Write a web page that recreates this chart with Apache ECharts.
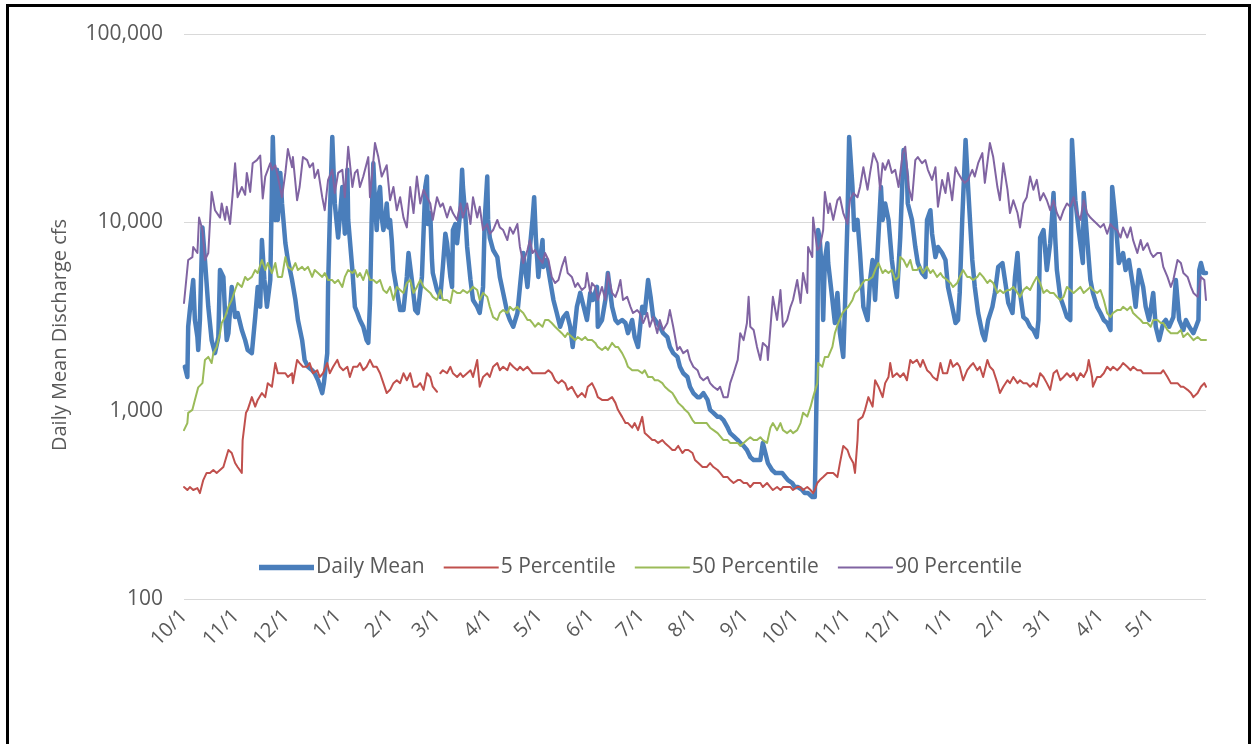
<!DOCTYPE html>
<html>
<head>
<meta charset="utf-8">
<script src="https://cdn.jsdelivr.net/npm/echarts@6/dist/echarts.min.js"></script>
<style>
html,body{margin:0;padding:0;background:#fff;}
#chart{width:1257px;height:744px;}
</style>
</head>
<body>
<div id="chart"></div>
<script>
// x = days since 10/1 of the first water year
const tickDays = [0,31,61,92,123,151,182,212,243,273,304,335,365,396,426,457,488,516,547,577];
const tickLabels = ['10/1','11/1','12/1','1/1','2/1','3/1','4/1','5/1','6/1','7/1','8/1','9/1','10/1','11/1','12/1','1/1','2/1','3/1','4/1','5/1'];
const yTicks = [100, 1000, 10000, 100000];
const seriesNames = ['Daily Mean','5 Percentile','50 Percentile','90 Percentile'];

const dailyMean = [[0.5,1710],[2,1510],[2.5,2790],[3.5,3420],[5.5,4940],[6.5,3030],[8,2460],[8.5,2100],[9.5,3030],[11,9400],[12.5,6310],[14.5,3560],[16.5,2370],[18.5,2020],[20.5,2460],[21.5,5580],[23.5,5130],[24.5,3300],[25.5,2370],[26.5,2580],[28.5,4540],[30.5,3140],[32,3300],[34.5,2680],[36.5,2370],[38,2100],[40.5,2020],[42.5,3140],[44,4540],[45.5,3560],[46.5,8050],[48,4940],[49.5,3560],[51.5,4940],[53,28400],[54.5,10300],[55.5,19000],[56,10300],[57.5,18300],[58.5,12600],[60.5,7750],[62,6310],[64.5,4940],[66.5,3870],[68,3030],[70.5,2370],[72,1860],[74,1710],[76.5,1640],[78,1580],[80,1450],[82.5,1240],[83.5,1400],[85.5,2020],[86,4540],[87,10300],[88.5,28400],[90,12600],[92,8300],[94.5,15400],[96,8700],[97.5,19000],[98,10300],[100.5,5580],[102,3560],[103.5,3300],[105,3030],[107,2790],[109,2370],[110,2290],[111,3730],[112,10300],[113,20600],[114,12600],[115,9100],[116,13600],[117,15400],[118,10600],[119,9100],[120,10300],[121,12600],[122,9400],[123,10300],[124,8050],[125,5580],[127,4370],[129,3420],[131,3420],[133,5130],[134,6870],[136,4940],[138,3420],[139.5,3300],[142,5130],[144,15400],[145,17500],[145.5,9800],[147,11200],[148,6310],[148.5,5380],[151,4370],[153,4020],[154.5,5800],[156,8700],[157,7750],[159,5130],[160,4540],[160.5,9100],[162,9800],[163,7750],[165,11600],[166,19000],[166.5,15400],[168,10600],[169,7400],[171,4940],[172.5,3870],[175,3560],[176.5,3300],[178.5,4540],[179.5,10300],[181,17500],[181.5,10300],[182.5,8300],[184.5,7130],[187,6540],[188.5,5130],[190.5,4220],[193,3300],[194.5,3030],[196.5,2790],[199,3300],[200.5,4540],[202.5,6870],[205,4540],[205.5,5130],[206.5,7400],[208,10300],[209,13600],[210,8300],[211.5,5130],[212.5,6310],[214,8050],[214.5,5800],[216.5,6310],[218.5,4940],[220.5,3870],[222.5,3300],[224.5,2790],[226.5,3140],[228.5,3300],[230.5,2790],[232,2180],[234.5,3560],[236.5,4220],[238,3730],[240.5,3030],[242.5,4220],[244,3870],[246.5,4540],[247,2790],[249.5,3030],[251.5,3870],[253,5380],[255.5,3560],[257.5,3030],[259,2920],[261.5,3030],[263.5,2920],[265,2580],[267.5,3030],[269,2460],[271,2180],[273.5,3560],[275,3300],[277,4940],[278.5,4020],[280,3140],[282.5,2920],[284,2790],[286,2580],[288.5,2460],[290,2180],[292,2020],[294.5,1930],[296,1710],[298,1580],[300.5,1510],[302,1340],[304,1240],[306.5,1180],[308,1180],[310,1240],[312.5,1140],[314,1010],[316,974],[318.5,927],[320,927],[322,891],[324.5,812],[326,760],[328,733],[330.5,698],[332,674],[334,650],[336,618],[338,567],[340,547],[342,547],[344,547],[345.5,674],[347,596],[348.5,527],[351,484],[353,467],[354.5,467],[357,467],[359,444],[360.5,428],[363,413],[364.5,393],[366.5,393],[369,379],[370.5,365],[372.5,365],[375,348],[376.5,348],[378,2020],[378.5,9100],[379.5,8050],[381,4940],[381.5,3030],[382.5,6310],[384,7750],[384.5,6080],[387,3870],[388.5,2920],[390,4220],[391.5,2580],[393.5,1930],[394.5,3560],[396,10300],[397,28400],[399,15400],[400,9100],[402,10300],[403.5,6870],[405.5,3560],[408,3030],[409.5,4940],[411,6310],[412.5,3870],[416,15400],[417,10300],[418.5,12600],[420.5,10300],[422.5,6310],[424.5,4540],[425.5,4020],[427.5,8300],[429.5,24200],[431.5,17500],[432,12600],[434.5,10300],[436.5,7400],[438,6080],[440.5,5380],[442.5,5130],[443.5,10300],[445.5,11600],[446.5,8700],[448.5,6540],[450,7400],[452.5,6870],[454.5,6310],[456,4540],[458.5,3560],[460.5,2920],[462,3030],[463,4220],[464.5,10300],[466.5,27400],[468,15400],[470.5,6310],[472,4540],[474,3300],[476.5,2580],[478,2370],[480,3030],[482.5,3560],[484,4220],[486,5800],[488.5,6080],[490,4940],[492,3730],[494.5,3300],[496,5130],[497.5,6870],[499,4220],[501,3140],[503,3030],[505,2790],[507,2680],[509,2460],[510,3030],[511,8300],[513,9100],[515,5580],[517,7750],[518,10300],[519,14300],[520,8300],[521,5580],[523,4020],[525,3560],[527,3140],[529,3030],[530,27400],[532,13100],[534,9100],[536.5,6080],[537,14300],[539,8300],[541,4940],[542.5,4220],[545,3560],[547,3300],[549,3030],[551,2920],[553,2680],[554,15400],[556,10300],[558,6080],[560.5,6870],[562,5580],[564,6310],[566.5,4540],[568,3560],[570,5580],[572.5,4540],[574,3560],[576,3030],[578.5,4220],[580,2790],[582,2370],[584.5,2920],[586,3030],[588,2790],[590.5,3140],[592,4940],[594,3030],[596.5,2680],[598,3030],[600,2790],[602.5,2580],[604,2790],[605.5,3030],[606,5580],[607,6080],[608.5,5380],[610,5380]];

const p5 = [[0,393],[2,379],[3.5,393],[5.5,379],[8,388],[9.5,365],[11.5,428],[13.5,467],[15.5,467],[17.5,484],[19.5,467],[21.5,484],[23.5,502],[26.5,618],[28.5,596],[30.5,527],[32,502],[34.5,467],[35,698],[37,974],[38,1010],[40.5,1180],[42.5,1050],[44,1140],[46.5,1240],[48.5,1180],[50,1400],[52.5,1340],[54.5,1790],[56,1580],[58.5,1580],[60.5,1580],[62,1510],[64.5,1580],[65,1400],[67.5,1860],[69,1790],[71,1710],[73.5,1710],[75,1790],[77,1580],[79.5,1640],[81,1510],[83,1580],[85.5,1790],[87,1580],[89,1710],[91.5,1860],[93,1710],[95,1640],[97.5,1710],[99,1510],[101,1710],[103.5,1710],[105,1790],[107,1640],[109,1710],[111,1860],[113,1710],[115,1710],[117,1580],[119,1400],[121,1240],[123,1290],[125,1400],[127,1450],[129,1400],[131,1580],[133,1450],[135,1580],[137,1340],[139,1340],[141,1400],[143,1290],[145,1580],[147,1510],[148.5,1340],[151,1260],[152,null],[153,1580],[154.5,1640],[157,1580],[159,1710],[160.5,1580],[163,1510],[165,1580],[166.5,1510],[169,1580],[171,1640],[172.5,1510],[175,1860],[176.5,1340],[178.5,1510],[181,1580],[182.5,1510],[184.5,1710],[187,1790],[188.5,1640],[190.5,1710],[193,1640],[194.5,1790],[196.5,1710],[199,1640],[200.5,1710],[202.5,1640],[205,1710],[206.5,1640],[208,1580],[209.5,1580],[211.5,1580],[214,1580],[215.5,1580],[217.5,1640],[219.5,1580],[221.5,1450],[223.5,1400],[225.5,1450],[227.5,1400],[229,1290],[231.5,1340],[233.5,1240],[235,1180],[237.5,1240],[239.5,1180],[241,1340],[243.5,1400],[245.5,1290],[247,1180],[249.5,1140],[251.5,1140],[253,1140],[255.5,1180],[257.5,1100],[259,1010],[261.5,927],[263.5,859],[265,859],[267.5,812],[269,859],[271,788],[273.5,927],[275,760],[277,733],[279.5,698],[281,698],[283,674],[285.5,698],[287,674],[289,650],[291.5,618],[293,618],[295,650],[297.5,596],[299,618],[301,618],[303.5,596],[305,547],[307,527],[309.5,502],[312,502],[314,527],[316,502],[318.5,484],[320,467],[322,444],[324.5,444],[326,428],[328,413],[330.5,428],[332,428],[334,413],[336,413],[338,393],[340,413],[342,413],[344,413],[345.5,393],[348,413],[350,393],[351.5,379],[354,393],[356,379],[357.5,393],[360,393],[362,393],[363.5,379],[366,393],[368,393],[369.5,379],[372,393],[374,379],[375.5,365],[376.5,379],[378,413],[379.5,428],[381.5,444],[384,467],[385.5,467],[387.5,467],[390,444],[391.5,527],[393.5,650],[396,618],[397.5,567],[399.5,527],[400.5,467],[402,698],[402.5,891],[405,927],[406.5,1010],[408.5,1180],[411,1050],[412.5,1450],[414.5,1340],[417,1180],[418.5,1400],[420.5,1510],[421.5,1790],[423,1510],[425.5,1580],[427.5,1510],[429.5,1580],[431.5,1450],[433.5,1860],[435,1790],[437.5,1860],[439.5,1710],[441,1860],[443.5,1640],[445.5,1580],[447,1510],[449.5,1450],[451.5,1790],[453,1580],[455.5,1580],[457.5,1860],[459,1710],[461.5,1790],[463,1710],[465,1450],[467.5,1640],[469,1710],[471,1790],[473.5,1640],[475,1710],[477,1510],[479.5,1860],[481,1710],[483,1640],[485.5,1400],[487,1240],[489,1340],[491.5,1450],[493,1400],[495,1510],[497.5,1400],[499,1450],[501,1400],[503,1400],[505,1340],[507,1400],[509,1340],[511,1580],[513,1510],[515,1400],[517,1290],[519,1580],[521,1640],[523,1450],[525,1510],[527,1580],[529,1510],[531,1580],[533,1450],[535,1580],[537,1510],[539,1640],[540,1860],[542,1510],[542.5,1340],[545,1510],[547,1510],[549,1580],[551,1710],[553,1640],[554.5,1710],[557,1640],[559,1710],[560.5,1790],[563,1710],[565,1640],[566.5,1710],[569,1640],[571,1640],[572.5,1580],[575,1580],[578.5,1580],[583,1580],[584.5,1640],[587,1510],[589,1400],[590.5,1400],[593,1400],[595,1340],[596.5,1340],[599,1290],[601,1240],[602.5,1180],[605,1240],[607,1340],[609,1400],[610,1340]];

const p50 = [[0,788],[2,859],[2.5,974],[5,1010],[6.5,1140],[8.5,1330],[11,1400],[12.5,1860],[14.5,1930],[16.5,1790],[17.5,2020],[19.5,2180],[21.5,2580],[22.5,2920],[24.5,3140],[26.5,3560],[28.5,3870],[30.5,4370],[32,4760],[34.5,4540],[36.5,5130],[38,4940],[40.5,5130],[42.5,5580],[44,5380],[46.5,6310],[48.5,5580],[50,6080],[52.5,5380],[54.5,6080],[56,5130],[58.5,5130],[60.5,6540],[62,5800],[64.5,5580],[66.5,6080],[68,5580],[70.5,5800],[72,5580],[74,5800],[76.5,5130],[78,5580],[80,5380],[82.5,5130],[84,5380],[86,4940],[88.5,4940],[90,4760],[92,4940],[94.5,4540],[96,5130],[98,5580],[100.5,5380],[102,5580],[103.5,5130],[105,5380],[107,4940],[109,5580],[111,4940],[113,4940],[115,4760],[117,4940],[119,4370],[121,4220],[123,4540],[125,3870],[127,4540],[129,4370],[131,4220],[133,4760],[135,4940],[137,4220],[139,4540],[141,4940],[143,4540],[145,4370],[147,4220],[148.5,4020],[151,3870],[153,4370],[154.5,3870],[157,3870],[159,3730],[160.5,4370],[163,4220],[165,4220],[166.5,4370],[169,4220],[171,4370],[172.5,4540],[175,4370],[176.5,3870],[178.5,4220],[181,4020],[182.5,3560],[184.5,3140],[187,3030],[188.5,3300],[190.5,3420],[193,3300],[194.5,3560],[196.5,3420],[199,3560],[200.5,3420],[202.5,3300],[205,3030],[206.5,3030],[208,2920],[209.5,2790],[211.5,2920],[214,2790],[215.5,3030],[217.5,3030],[219.5,2920],[221.5,2790],[223.5,2680],[225.5,2580],[227.5,2460],[229,2580],[231.5,2460],[233.5,2370],[235,2460],[237.5,2370],[239.5,2460],[241,2370],[243.5,2370],[245.5,2290],[247,2180],[249.5,2100],[251.5,2180],[253,2100],[255.5,2290],[257.5,2180],[259,2180],[261.5,2020],[263.5,1860],[265,1710],[267.5,1640],[269,1640],[271,1640],[273.5,1580],[275,1640],[277,1510],[279.5,1510],[281,1450],[283,1450],[285.5,1400],[287,1340],[289,1290],[291.5,1240],[293,1180],[295,1100],[297.5,1050],[299,1010],[301,974],[303.5,891],[305,859],[307,859],[309.5,859],[312,859],[314,812],[316,788],[318.5,760],[320,733],[322,698],[324.5,698],[326,674],[328,674],[330.5,674],[332,650],[334,674],[336,698],[338,723],[340,698],[342,698],[344,723],[345.5,698],[348,674],[350,812],[351.5,859],[354,788],[356,859],[357.5,788],[360,760],[362,788],[363.5,760],[366,788],[368,859],[369.5,974],[372,930],[374,1050],[375.5,1180],[378,1400],[378.5,1790],[381,1710],[382.5,1930],[384.5,1930],[387,2180],[388.5,2580],[390.5,2920],[393,3300],[394.5,3420],[396.5,3560],[399,3870],[400.5,4220],[402.5,4370],[405,4760],[406.5,4940],[408.5,4940],[411,5130],[412.5,5580],[414.5,6080],[417,5380],[418.5,5580],[420.5,5380],[422.5,5580],[424.5,4940],[426.5,5130],[427.5,6540],[429.5,6310],[431.5,5800],[433.5,6310],[435,5580],[437.5,5580],[439.5,5800],[441,5380],[443.5,5800],[445.5,5380],[447,5580],[449.5,5130],[451.5,5380],[453,5130],[455.5,4940],[457.5,4760],[459,4540],[461.5,4760],[463,5130],[465,5580],[467.5,5130],[469,5130],[471,4940],[473.5,5130],[475,5380],[477,5130],[479.5,4760],[481,4940],[483,4760],[485.5,4220],[487,4370],[489,4220],[491.5,4370],[493,4370],[495,4540],[497.5,4220],[499,4020],[501,4370],[503,4540],[505,4370],[507,4760],[509,5130],[511,4760],[513,4220],[515,4370],[517,4220],[519,4220],[521,4020],[523,3870],[525,4020],[527,4540],[529,4370],[531,4220],[533,4370],[535,4540],[537,4220],[539,4370],[541,4540],[542.5,4370],[545,4220],[547,4370],[549,3870],[551,3300],[553,3140],[554.5,3300],[557,3420],[559,3420],[560.5,3560],[563,3420],[565,3560],[566.5,3300],[569,3140],[571,3030],[572.5,2920],[575,2920],[577,2790],[578.5,3030],[581,3030],[583,2920],[584.5,2920],[587,2680],[589,2580],[590.5,2580],[593,2580],[595,2680],[596.5,2460],[599,2580],[601,2460],[602.5,2370],[605,2460],[607,2370],[609,2370],[610,2370]];

const p90 = [[0,3730],[2.5,6310],[5,6540],[5.5,7400],[8,6870],[9,10600],[11,9100],[12.5,6310],[14.5,6870],[16.5,14500],[18.5,11600],[21.5,10600],[22.5,12600],[24.5,10300],[25.5,12100],[27.5,9800],[29,14000],[30.5,20600],[32,13600],[34.5,15400],[36.5,14000],[37.5,18300],[39.5,14500],[41,20600],[43.5,21400],[45.5,22600],[47,13400],[48.5,17500],[51.5,20600],[52.5,19000],[54.5,20100],[56,17500],[58.5,13600],[60.5,18300],[62,24500],[64.5,19600],[65,22200],[67.5,13100],[69,15400],[71,22200],[73.5,21400],[75,19600],[77,20600],[78,17200],[80,19000],[82.5,13600],[84,11600],[86,16800],[88.5,19000],[90,14300],[92,18300],[94.5,19000],[96,13600],[98,25200],[100.5,15400],[102,18300],[103.5,19000],[105,15400],[107,17500],[110,22200],[111,13600],[114,26400],[116,22200],[118,17500],[121,20100],[123,13100],[125,15400],[127,11600],[129,13600],[131,10600],[133,9400],[135,15400],[137,11200],[139,17500],[141,12600],[143,14900],[145,13600],[147,12600],[148.5,10300],[151,13600],[153,12100],[154.5,12600],[157,10600],[159,12100],[160.5,11200],[163,10300],[165,12600],[166.5,10600],[169,12600],[171,9800],[172.5,13600],[175,10600],[176.5,12100],[178.5,9100],[181,9800],[182.5,8700],[184.5,9100],[187,10300],[188.5,9400],[190.5,9100],[193,8050],[194.5,9400],[196.5,8700],[199,9800],[200.5,7400],[202.5,6080],[205,7130],[206.5,8050],[208,6870],[209.5,7130],[211.5,6540],[214,6080],[215.5,6870],[217.5,6310],[219.5,5130],[221.5,4760],[223.5,4940],[225.5,5800],[227.5,6540],[229,5380],[231.5,5130],[233.5,4540],[235,4760],[237.5,4370],[239.5,4540],[240.5,5380],[242.5,4220],[243.5,4760],[245.5,4540],[247,3870],[249.5,4540],[251.5,3870],[253,5380],[255.5,4220],[257.5,4020],[259,4370],[260.5,4940],[262,3870],[264.5,4020],[266.5,3560],[268,3300],[270.5,3420],[272,3300],[274,2920],[276.5,3300],[278,2790],[280,3140],[282.5,2580],[284,3030],[286,2680],[288.5,2920],[290,3420],[292,2790],[294.5,2100],[296,2180],[298,2020],[300.5,2100],[302,1860],[304,1710],[306.5,1640],[308,1510],[310,1450],[312.5,1510],[314,1400],[316,1340],[318.5,1290],[320,1340],[322,1180],[324.5,1180],[326,1400],[328,1580],[330.5,1860],[332,2580],[334,2370],[336,2920],[337,4020],[338,2790],[340,2680],[342,2180],[344,1860],[345.5,2290],[348,2180],[348.5,1860],[351,3560],[351.5,4020],[354,3030],[356,4370],[357.5,2790],[360,3030],[362,3560],[363.5,3870],[366,4940],[368,3730],[369.5,5380],[372,4220],[372.5,7400],[375,6540],[375.5,10600],[378,7130],[379.5,7400],[381.5,9100],[382.5,14500],[384.5,11200],[385.5,12600],[387.5,10300],[390,13100],[391.5,13600],[393.5,11200],[396,9800],[397.5,13100],[399.5,14300],[402,13600],[403.5,15400],[405.5,19600],[408,14900],[409.5,18300],[411.5,23300],[414,20600],[415.5,14900],[417,20600],[418.5,19000],[420.5,21400],[422.5,18300],[424.5,19000],[426.5,15400],[429,23300],[430.5,25200],[432.5,15400],[434.5,13100],[436.5,21400],[438,22200],[440.5,20600],[442.5,21400],[444,19000],[446.5,16800],[448.5,19600],[450,12100],[452.5,16800],[454.5,14300],[456,18300],[458.5,13100],[460.5,19600],[462,18300],[464.5,16800],[466,16200],[468,16800],[470.5,19000],[472,17500],[474,20600],[476.5,23300],[478,16200],[481,26400],[483,22200],[485.5,15400],[487,13100],[489,20600],[491.5,14900],[493,11200],[495,13100],[497.5,11200],[499,9400],[501,12600],[503,13600],[505,17500],[507,14900],[509,16800],[511,13100],[513,14300],[515,13100],[517,11600],[519,13100],[521,11200],[523,10300],[525,11600],[527,12600],[529,12100],[531,13600],[533,11200],[535,10300],[537,13100],[539,11200],[541,10600],[542.5,10300],[545,9800],[547,9400],[549,9800],[551,8700],[553,9800],[554.5,9400],[557,9100],[559,8300],[560.5,9400],[563,8300],[565,9400],[566.5,8050],[569,6870],[571,8050],[572.5,7130],[575,7750],[577,6870],[578.5,6540],[581,6870],[583,6870],[584.5,5800],[587,5130],[589,4540],[590.5,4940],[593,6310],[595,6080],[596.5,5380],[599,5130],[601,4540],[602.5,4220],[605,4020],[607,5130],[609,4940],[610,3870]];

const colors = ['#4a7ebb','#c0504d','#9bbb59','#8064a2'];
const widths = [4.5, 2, 2, 2];
const legendIcons = ['path://M0,0H50V5H0Z','path://M0,0H50V2H0Z','path://M0,0H50V2H0Z','path://M0,0H50V2H0Z'];
const seriesData = [dailyMean, p5, p50, p90];

const FONT = '"Open Sans", "Liberation Sans", sans-serif';
const chart = echarts.init(document.getElementById('chart'), null, {renderer: 'canvas'});

chart.setOption({
  animation: false,
  backgroundColor: '#ffffff',
  grid: {left: 184, right: 51, top: 34, bottom: 145, containLabel: false},
  legend: {
    left: 254, top: 552,
    itemWidth: 55, itemHeight: 14, itemGap: 19,
    itemStyle: {borderWidth: 0},
    textStyle: {fontFamily: FONT, fontSize: 21, color: '#595959', padding: [0,0,0,-3]},
    data: seriesNames.map(function (n, i) { return {name: n, icon: legendIcons[i]}; })
  },
  xAxis: {
    type: 'value', min: 0, max: 610,
    axisLine: {show: false}, axisTick: {show: false},
    splitLine: {show: false},
    axisLabel: {
      customValues: tickDays,
      rotate: 45, margin: 14,
      fontFamily: FONT, fontSize: 20, color: '#595959',
      formatter: function (v) { const i = tickDays.indexOf(v); return i >= 0 ? tickLabels[i] : ''; }
    }
  },
  yAxis: {
    type: 'log', logBase: 10, min: 100, max: 100000,
    axisLine: {show: false}, axisTick: {show: false},
    splitLine: {show: true, lineStyle: {color: '#d9d9d9', width: 1}},
    axisLabel: {
      margin: 21, fontFamily: FONT, fontSize: 21, color: '#595959',
      formatter: function (v) { return Math.round(v).toLocaleString('en-US'); }
    }
  },
  graphic: [
    {type: 'rect', silent: true, shape: {x: 7.5, y: 5.5, width: 1242, height: 900},
     style: {fill: 'none', stroke: '#000', lineWidth: 3}},
    {type: 'text', x: 60, y: 335, rotation: Math.PI / 2,
     style: {text: 'Daily Mean Discharge cfs', font: '20px ' + FONT, fill: '#595959', align: 'center', verticalAlign: 'middle'}}
  ],
  series: seriesNames.map(function (name, i) {
    return {
      name: name, type: 'line', data: seriesData[i], showSymbol: false, symbol: 'none',
      connectNulls: false,
      lineStyle: {color: colors[i], width: widths[i], join: 'round', cap: 'round'},
      itemStyle: {color: colors[i]}
    };
  })
});
</script>
</body>
</html>
